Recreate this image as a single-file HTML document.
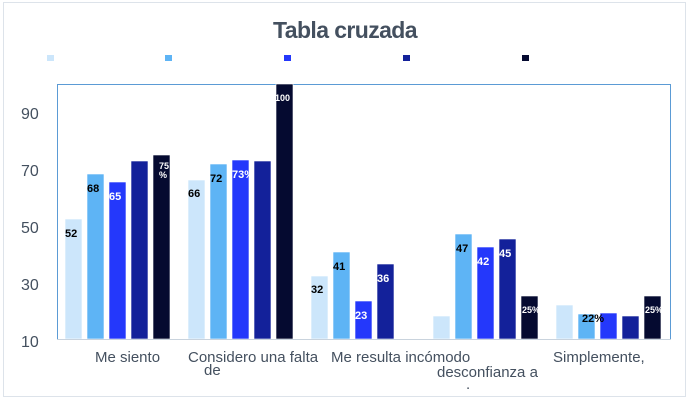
<!DOCTYPE html>
<html><head><meta charset="utf-8"><style>
body{margin:0;background:#fff;}
svg{display:block;font-family:"Liberation Sans",sans-serif;}
</style></head><body>
<svg width="690" height="400" viewBox="0 0 690 400">
<rect x="3.5" y="2.5" width="682" height="394" fill="none" stroke="#dde3ea"/>
<text x="345" y="38" text-anchor="middle" font-size="23" font-weight="bold" fill="#44505f" letter-spacing="-0.6">Tabla cruzada</text>
<rect x="47" y="55" width="7" height="6" fill="#cce6fb"/>
<rect x="165" y="55" width="7" height="6" fill="#5eb4f5"/>
<rect x="284" y="55" width="7" height="6" fill="#2438fb"/>
<rect x="403" y="55" width="7" height="6" fill="#13219a"/>
<rect x="522" y="55" width="7" height="6" fill="#050a30"/>
<g font-size="16" fill="#44505f">
<text x="21" y="119">90</text>
<text x="21" y="176">70</text>
<text x="21" y="233">50</text>
<text x="21" y="290">30</text>
<text x="21" y="347">10</text>
</g>
<path d="M57.5 339 V84.5 H670.5 V339" fill="none" stroke="#5b9bd5"/>
<g stroke="#fff" stroke-width="0.6">
<rect x="65" y="219" width="17" height="120" fill="#cce6fb"/>
<rect x="87" y="174" width="17" height="165" fill="#5eb4f5"/>
<rect x="109" y="182" width="17" height="157" fill="#2438fb"/>
<rect x="131" y="161" width="17" height="178" fill="#13219a"/>
<rect x="153" y="155" width="17" height="184" fill="#050a30"/>
<rect x="188" y="180" width="17" height="159" fill="#cce6fb"/>
<rect x="210" y="164" width="17" height="175" fill="#5eb4f5"/>
<rect x="232" y="160" width="17" height="179" fill="#2438fb"/>
<rect x="254" y="161" width="17" height="178" fill="#13219a"/>
<rect x="276" y="84" width="17" height="255" fill="#050a30"/>
<rect x="311" y="276" width="17" height="63" fill="#cce6fb"/>
<rect x="333" y="252" width="17" height="87" fill="#5eb4f5"/>
<rect x="355" y="301" width="17" height="38" fill="#2438fb"/>
<rect x="377" y="264" width="17" height="75" fill="#13219a"/>
<rect x="433" y="316" width="17" height="23" fill="#cce6fb"/>
<rect x="455" y="234" width="17" height="105" fill="#5eb4f5"/>
<rect x="477" y="247" width="17" height="92" fill="#2438fb"/>
<rect x="499" y="239" width="17" height="100" fill="#13219a"/>
<rect x="521" y="296" width="17" height="43" fill="#050a30"/>
<rect x="556" y="305" width="17" height="34" fill="#cce6fb"/>
<rect x="578" y="314" width="17" height="25" fill="#5eb4f5"/>
<rect x="600" y="313" width="17" height="26" fill="#2438fb"/>
<rect x="622" y="316" width="17" height="23" fill="#13219a"/>
<rect x="644" y="296" width="17" height="43" fill="#050a30"/>
</g>
<line x1="57" y1="339.5" x2="671" y2="339.5" stroke="#c9d3dd"/>
<g font-size="11" font-weight="bold">
<text x="65" y="237" fill="#000">52</text>
<text x="87" y="192" fill="#000">68</text>
<text x="109" y="200" fill="#fff">65</text>
<text x="159" y="169" fill="#fff" font-size="9">75</text>
<text x="159" y="178" fill="#fff" font-size="9">%</text>
<text x="188" y="197" fill="#000">66</text>
<text x="210" y="182" fill="#000">72</text>
<text x="232" y="178" fill="#fff">73%</text>
<text x="275" y="101" fill="#fff" font-size="9">100</text>
<text x="311" y="293" fill="#000">32</text>
<text x="333" y="270" fill="#000">41</text>
<text x="355" y="319" fill="#fff">23</text>
<text x="377" y="282" fill="#fff">36</text>
<text x="456" y="252" fill="#000">47</text>
<text x="477" y="265" fill="#fff">42</text>
<text x="499" y="257" fill="#fff">45</text>
<text x="522" y="313" fill="#fff" font-size="9">25%</text>
<text x="582" y="322" fill="#000">22%</text>
<text x="645" y="313" fill="#fff" font-size="9">25%</text>
</g>
<g font-size="15" fill="#44505f">
<text x="95" y="362">Me siento</text>
<text x="188" y="362">Considero una falta</text>
<text x="204" y="375">de</text>
<text x="331" y="362">Me resulta incómodo</text>
<text x="437" y="377">desconfianza a</text>
<text x="466" y="389">.</text>
<text x="553" y="362">Simplemente,</text>
</g>
</svg>
</body></html>
